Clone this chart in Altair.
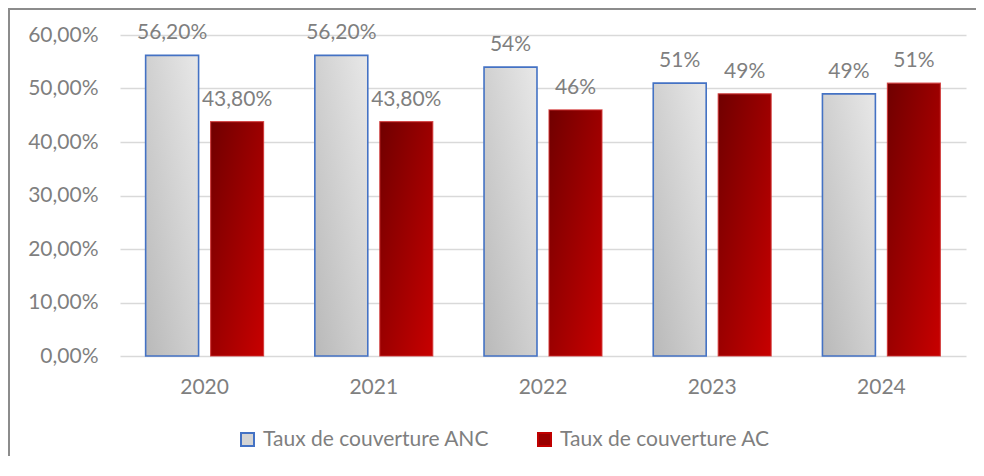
import altair as alt
import pandas as pd

# ---- data ----
years = ["2020", "2021", "2022", "2023", "2024"]
series_names = ["Taux de couverture ANC", "Taux de couverture AC"]
anc_values = [56.2, 56.2, 54, 51, 49]
ac_values = [43.8, 43.8, 46, 49, 51]
anc_labels = ["56,20%", "56,20%", "54%", "51%", "49%"]
ac_labels = ["43,80%", "43,80%", "46%", "49%", "51%"]
y_ticks = [0, 10, 20, 30, 40, 50, 60]

rows = []
for i, yr in enumerate(years):
    rows.append({"year": yr, "series": series_names[0], "value": anc_values[i], "label": anc_labels[i]})
    rows.append({"year": yr, "series": series_names[1], "value": ac_values[i], "label": ac_labels[i]})
df = pd.DataFrame(rows)

W, H = 846, 321
PAD = {"left": 112, "top": 27, "right": 10, "bottom": 100}
FONT = "Lato"
GRAY = "#7f7f7f"
FS = 21

x_enc = alt.X(
    "year:N", sort=years,
    scale=alt.Scale(paddingInner=0.303, paddingOuter=0.1515),
    axis=alt.Axis(title=None, labelAngle=0, labelPadding=20, ticks=False, domain=False,
                  labelFontSize=FS, labelColor=GRAY, labelFont=FONT, grid=False),
)
xoff_enc = alt.XOffset(
    "series:N", sort=series_names,
    scale=alt.Scale(domain=series_names, paddingInner=0.185, paddingOuter=0),
)
y_enc = alt.Y(
    "value:Q",
    scale=alt.Scale(domain=[0, 60], nice=False),
    axis=alt.Axis(title=None, values=y_ticks, ticks=False, domain=False, labelPadding=22,
                  labelExpr="replace(format(datum.value, '.2f'), '.', ',') + '%'",
                  labelFontSize=FS, labelColor=GRAY, labelFont=FONT,
                  grid=True, gridColor="#d9d9d9", gridWidth=1.5),
)

anc_grad = alt.LinearGradient(
    gradient="linear",
    stops=[alt.GradientStop(color="#b9b9b9", offset=0), alt.GradientStop(color="#e8e8e8", offset=1)],
    x1=0, y1=1, x2=1, y2=0,
)
ac_grad = alt.LinearGradient(
    gradient="linear",
    stops=[alt.GradientStop(color="#700000", offset=0), alt.GradientStop(color="#c80000", offset=1)],
    x1=0, y1=0, x2=1, y2=1,
)

base = alt.Chart(df)

anc_bars = base.transform_filter(alt.datum.series == series_names[0]).mark_bar(
    fill=anc_grad, stroke="#4472c4", strokeWidth=1.6
).encode(x=x_enc, xOffset=xoff_enc, y=y_enc)

ac_bars = base.transform_filter(alt.datum.series == series_names[1]).mark_bar(
    fill=ac_grad, stroke="#d03030", strokeWidth=1.2, strokeOpacity=0.8
).encode(x=x_enc, xOffset=xoff_enc, y=y_enc)

legend_spec = alt.Legend(
    title=None, orient="none", legendX=117, legendY=394, direction="horizontal",
    symbolType="square", symbolSize=169, symbolStrokeWidth=2,
    labelFont=FONT, labelFontSize=FS, labelColor=GRAY, labelLimit=0,
    labelOffset=5, columnPadding=44,
)
legend_layer = base.transform_filter("false").mark_bar().encode(
    x=x_enc, xOffset=xoff_enc, y=y_enc,
    fill=alt.Fill("series:N", sort=series_names,
                  scale=alt.Scale(domain=series_names, range=["#d4d4d4", "#9a0000"]),
                  legend=legend_spec),
    stroke=alt.Stroke("series:N", sort=series_names,
                      scale=alt.Scale(domain=series_names, range=["#4472c4", "#c00000"]),
                      legend=legend_spec),
)

labels = base.mark_text(
    baseline="alphabetic", dy=-16, fontSize=FS, font=FONT, color=GRAY
).encode(x=x_enc, xOffset=xoff_enc, y=y_enc, text="label:N")

# outer chart frame (left and top edges), drawn as thin filled rectangles
frame_data = alt.Data(values=[{"k": 1}])
frame_left = alt.Chart(frame_data).mark_rect(fill="#8c8c8c").encode(
    x=alt.value(-112), x2=alt.value(-110), y=alt.value(-27), y2=alt.value(H + PAD["bottom"])
)
frame_top = alt.Chart(frame_data).mark_rect(fill="#8c8c8c").encode(
    x=alt.value(-112), x2=alt.value(W + PAD["right"]), y=alt.value(-27), y2=alt.value(-25)
)

chart = alt.layer(
    frame_left, frame_top, anc_bars, ac_bars, legend_layer, labels
).properties(
    width=W, height=H, padding=PAD, autosize=alt.AutoSizeParams(type="none"),
).configure_view(stroke="transparent", strokeWidth=0)

chart.save("out.html", embed_options={"renderer": "svg", "actions": False})
